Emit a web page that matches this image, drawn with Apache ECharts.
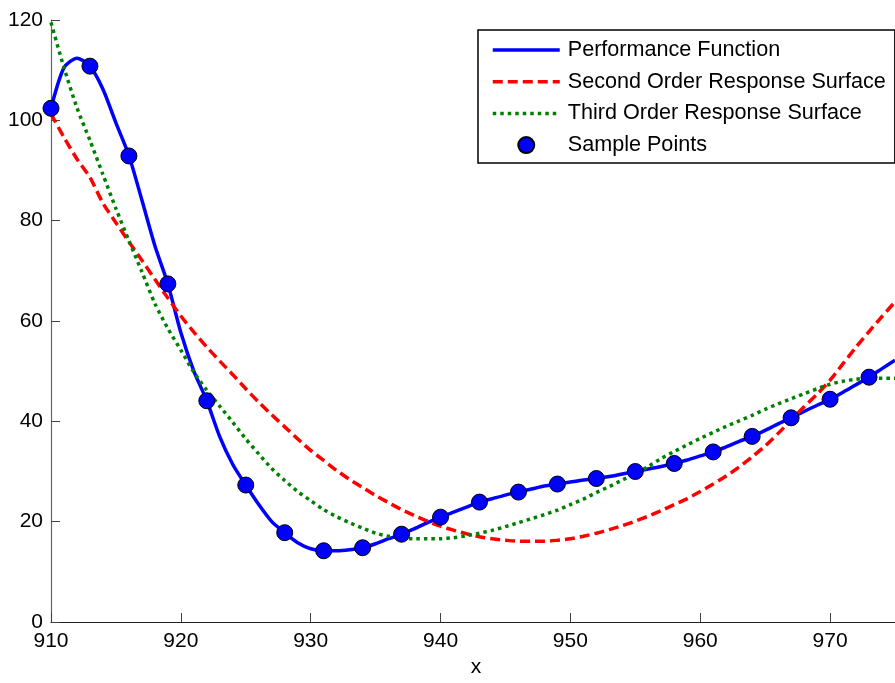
<!DOCTYPE html>
<html>
<head>
<meta charset="utf-8">
<script src="https://cdn.jsdelivr.net/npm/echarts@6/dist/echarts.min.js"></script>
<style>
html,body{margin:0;padding:0;background:#fff;}
#chart{width:895px;height:683px;}
</style>
</head>
<body>
<div id="chart"></div>
<script>
// x grid for the curves
var curveX = [910,911,912,913,914,915,916,917,918,919,920,921,922,923,924,925,926,927,928,929,
  930,931,932,933,934,935,936,937,938,939,940,941,942,943,944,945,946,947,948,949,
  950,951,952,953,954,955,956,957,958,959,960,961,962,963,964,965,966,967,968,969,
  970,971,972,973,974,975];
var performanceY = [102.4,110.5,112.4,110.8,106.2,99.5,93.0,84.1,75.0,67.4,57.7,50.0,44.1,36.9,31.4,27.3,23.4,20.0,17.8,15.8,
  14.6,14.2,14.2,14.4,14.8,15.6,16.6,17.5,18.6,19.8,20.9,21.9,22.9,23.9,24.6,25.3,25.9,26.5,27.1,27.5,
  27.9,28.3,28.6,29.0,29.5,30.0,30.5,31.0,31.6,32.3,33.1,33.9,34.9,36.0,37.0,38.2,39.5,40.7,42.0,43.2,
  44.4,45.8,47.3,48.8,50.5,52.2];
var secondOrderY = [101.3,96.6,92.3,88.6,83.5,79.6,75.8,72.1,68.3,64.6,61.0,57.8,54.8,52.0,49.3,46.5,43.8,41.3,38.9,36.5,
  34.2,32.2,30.2,28.4,26.8,25.2,23.8,22.4,21.2,20.1,19.1,18.3,17.6,17.0,16.6,16.3,16.1,16.1,16.1,16.3,
  16.6,17.1,17.7,18.4,19.2,20.1,21.1,22.2,23.4,24.6,26.0,27.5,29.1,30.9,32.9,35.1,37.6,40.2,42.9,45.4,
  48.2,51.5,54.8,57.9,60.9,63.8];
var thirdOrderY = [119.5,110.5,102.5,96.0,89.2,82.4,76.0,69.8,63.5,58.5,54.2,49.8,46.2,43.0,39.8,36.5,33.5,30.6,28.2,26.0,
  24.2,22.4,21.0,19.8,18.7,17.7,17.1,16.8,16.6,16.6,16.6,16.8,17.2,17.7,18.3,19.0,19.8,20.6,21.4,22.3,
  23.4,24.5,25.8,27.0,28.3,29.6,31.0,32.6,34.0,35.3,36.6,37.8,39.0,40.1,41.2,42.4,43.5,44.5,45.5,46.5,
  47.4,48.0,48.4,48.6,48.6,48.6];
var sampleX = [910,913,916,919,922,925,928,931,934,937,940,943,946,949,952,955,958,961,964,967,970,973];
var sampleY = [102.4,110.8,92.9,67.4,44.1,27.3,17.8,14.2,14.8,17.5,20.9,23.9,25.9,27.5,28.6,30.0,31.6,33.9,37.0,40.7,44.4,48.8];
var seriesNames = ['Performance Function','Second Order Response Surface','Third Order Response Surface','Sample Points'];
var xAxisName = 'x';

function pairs(xa, ya){ return xa.map(function(x,i){ return [x, ya[i]]; }); }

var FONT = "'Liberation Sans', Arial, Helvetica, sans-serif";
var chart = echarts.init(document.getElementById('chart'), null, {renderer:'canvas'});
chart.setOption({
  animation:false,
  backgroundColor:'#ffffff',
  textStyle:{fontFamily:FONT},
  grid:{left:51, top:20, right:0, bottom:61, containLabel:false},
  xAxis:{
    type:'value', min:910, max:975, interval:10,
    name:xAxisName, nameLocation:'middle', nameGap:33,
    nameTextStyle:{fontSize:21, color:'#000', fontFamily:FONT, padding:[0,0,0,6]},
    axisLine:{show:true, onZero:false, lineStyle:{color:'#222', width:1.2}},
    axisTick:{show:true, inside:true, length:9, lineStyle:{color:'#444', width:1}},
    axisLabel:{fontSize:21, color:'#000', margin:9, showMaxLabel:false, fontFamily:FONT},
    splitLine:{show:false}
  },
  yAxis:{
    type:'value', min:0, max:120, interval:20,
    axisLine:{show:true, onZero:false, lineStyle:{color:'#666', width:1.2}},
    axisTick:{show:true, inside:true, length:9, lineStyle:{color:'#444', width:1}},
    axisLabel:{fontSize:21, color:'#000', margin:8, fontFamily:FONT},
    splitLine:{show:false}
  },
  legend:{
    orient:'vertical', left:478, top:30,
    itemWidth:67, itemHeight:16, itemGap:7.7,
    padding:[8,9,6,13],
    borderColor:'#000', borderWidth:1.5, backgroundColor:'#fff',
    lineStyle:{width:3.5},
    textStyle:{fontSize:21.6, color:'#000', lineHeight:24, padding:[0,0,0,3], fontFamily:FONT},
    data:[
      {name:seriesNames[0], itemStyle:{opacity:0}},
      {name:seriesNames[1], itemStyle:{opacity:0}},
      {name:seriesNames[2], itemStyle:{opacity:0}},
      {name:seriesNames[3]}
    ]
  },
  series:[
    {name:seriesNames[0], type:'line', data:pairs(curveX, performanceY), symbol:'none', smooth:0.25,
     lineStyle:{color:'#0000ff', width:3.5}, itemStyle:{color:'#0000ff', opacity:0}, z:2},
    {name:seriesNames[1], type:'line', data:pairs(curveX, secondOrderY), symbol:'none', smooth:0.25,
     lineStyle:{color:'#ff0000', width:3.5, type:[10,5]}, itemStyle:{color:'#ff0000', opacity:0}, z:3},
    {name:seriesNames[2], type:'line', data:pairs(curveX, thirdOrderY), symbol:'none', smooth:0.25,
     lineStyle:{color:'#008000', width:3.5, type:[3.5,4]}, itemStyle:{color:'#008000', opacity:0}, z:4},
    {name:seriesNames[3], type:'scatter', data:pairs(sampleX, sampleY), symbol:'circle', symbolSize:16,
     itemStyle:{color:'#0000ff', borderColor:'#000', borderWidth:1, opacity:1}, z:5}
  ]
});
</script>
</body>
</html>
